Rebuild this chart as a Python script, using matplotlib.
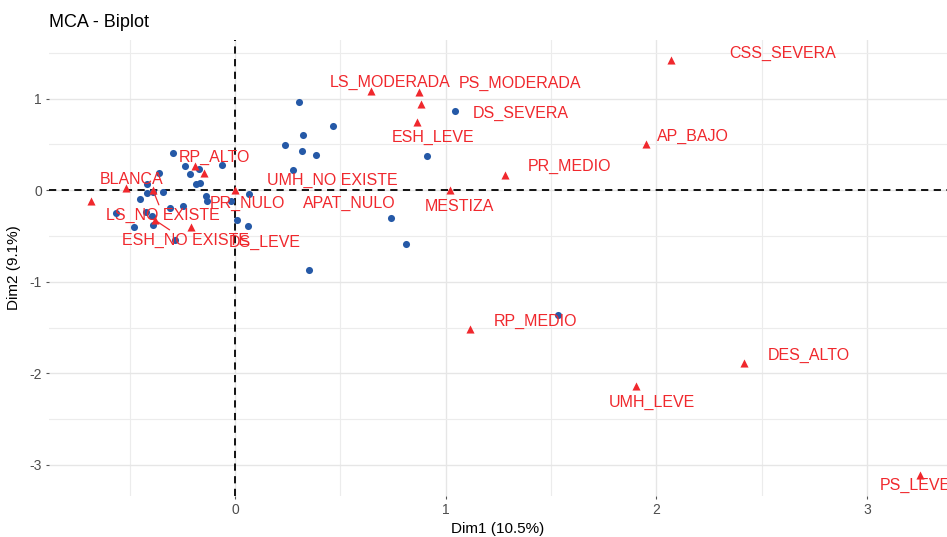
import matplotlib.pyplot as plt

plt.rcParams['font.family'] = ['Liberation Sans', 'DejaVu Sans']
plt.rcParams['axes.unicode_minus'] = False

# individuals (Dim1, Dim2)
ind_x = [-0.296, -0.238, -0.170, -0.063, -0.214, -0.360, -0.418, -0.185, -0.166, -0.420,
         -0.390, -0.343, -0.454, -0.139, -0.134, -0.309, -0.248, -0.565, -0.423, -0.394,
         -0.480, -0.390, -0.285, -0.019, 0.008, 0.063, 0.067, 0.235, 0.305, 0.464,
         0.322, 0.317, 0.383, 0.276, 0.350, 0.740, 0.812, 1.045, 0.911, 1.533]
ind_y = [0.404, 0.262, 0.226, 0.279, 0.172, 0.183, 0.066, 0.071, 0.082, -0.027,
         -0.016, -0.019, -0.098, -0.060, -0.117, -0.191, -0.172, -0.248, -0.237, -0.284,
         -0.401, -0.383, -0.546, -0.120, -0.331, -0.393, -0.038, 0.497, 0.965, 0.703,
         0.604, 0.430, 0.379, 0.219, -0.871, -0.309, -0.593, 0.867, 0.368, -1.366]

# categories (Dim1, Dim2)
cat_names = ['CSS_SEVERA', 'LS_MODERADA', 'PS_MODERADA', 'DS_SEVERA', 'ESH_LEVE',
             'AP_BAJO', 'PR_MEDIO', 'MESTIZA', 'RP_MEDIO', 'DES_ALTO',
             'UMH_LEVE', 'PS_LEVE', 'UMH_NO EXISTE', 'PR_NULO', 'APAT_NULO',
             'DS_LEVE', 'RP_ALTO', 'BLANCA', 'LS_NO EXISTE', 'ESH_NO EXISTE']
cat_x = [2.071, 0.646, 0.874, 0.884, 0.865, 1.953, 1.283, 1.021, 1.116, 2.418,
         1.905, 3.254, -0.147, 0.0, -0.684, -0.209, -0.190, -0.518, -0.390, -0.380]
cat_y = [1.421, 1.082, 1.071, 0.940, 0.743, 0.503, 0.164, 0.0, -1.519, -1.891,
         -2.142, -3.115, 0.186, 0.005, -0.120, -0.404, 0.262, 0.022, 0.0, -0.328]

# label placement (pixel offsets, like ggrepel result)
label_off = {
    'CSS_SEVERA': (111, 7), 'LS_MODERADA': (19, 9), 'PS_MODERADA': (101, 9),
    'DS_SEVERA': (99, -9), 'ESH_LEVE': (16, -15), 'AP_BAJO': (46, 8),
    'PR_MEDIO': (64, 9), 'MESTIZA': (9, -16), 'RP_MEDIO': (65, 8),
    'DES_ALTO': (64, 8), 'UMH_LEVE': (16, -16), 'PS_LEVE': (-5, -10),
    'UMH_NO EXISTE': (128, -7), 'PR_NULO': (12, -14), 'APAT_NULO': (258, -2),
    'DS_LEVE': (74, -15), 'RP_ALTO': (19, 9), 'BLANCA': (6, 9),
    'LS_NO EXISTE': (10, -25), 'ESH_NO EXISTE': (30, -20),
}
with_segment = ['PR_NULO', 'LS_NO EXISTE', 'ESH_NO EXISTE']

blue = '#2559a7'
red = '#f0282d'

fig = plt.figure(figsize=(9.47, 5.37), dpi=100)
ax = fig.add_axes([0.0517, 0.0764, 0.9483, 0.8491])

ax.set_xlim(-0.884, 3.38)
ax.set_ylim(-3.34, 1.64)

ax.set_xticks([0, 1, 2, 3])
ax.set_yticks([-3, -2, -1, 0, 1])
ax.set_xticks([-0.5, 0.5, 1.5, 2.5], minor=True)
ax.set_yticks([-2.5, -1.5, -0.5, 0.5, 1.5], minor=True)
ax.grid(True, which='major', color='#e6e6e6', linewidth=1.0)
ax.grid(True, which='minor', color='#ececec', linewidth=0.8)
ax.set_axisbelow(True)
for s in ax.spines.values():
    s.set_visible(False)
ax.tick_params(which='major', length=2, color='#555555', labelcolor='#4d4d4d',
               labelsize=10, pad=3)
ax.tick_params(which='minor', length=0)

ax.axhline(0, color='black', linestyle=(0, (4, 3)), linewidth=1.3, zorder=1)
ax.axvline(0, color='black', linestyle=(0, (4, 3)), linewidth=1.3, zorder=1)

ax.scatter(ind_x, ind_y, s=26, color=blue, zorder=3, linewidths=0)
ax.scatter(cat_x, cat_y, s=34, marker='^', color=red, zorder=4, linewidths=0)

for name, x, y in zip(cat_names, cat_x, cat_y):
    dx, dy = label_off[name]
    arrow = None
    if name in with_segment:
        arrow = dict(arrowstyle='-', color=red, lw=0.9, shrinkA=0, shrinkB=0)
    ax.annotate(name, (x, y), xytext=(dx, dy), textcoords='offset pixels',
                ha='center', va='center', color=red, fontsize=11.5,
                arrowprops=arrow, zorder=5, annotation_clip=False)

ax.set_xlabel('Dim1 (10.5%)', fontsize=11, labelpad=4)
ax.set_ylabel('Dim2 (9.1%)', fontsize=11, labelpad=6)
fig.text(0.0517, 0.958, 'MCA - Biplot', fontsize=13, ha='left', va='center')

plt.savefig('out.png', dpi=100)
